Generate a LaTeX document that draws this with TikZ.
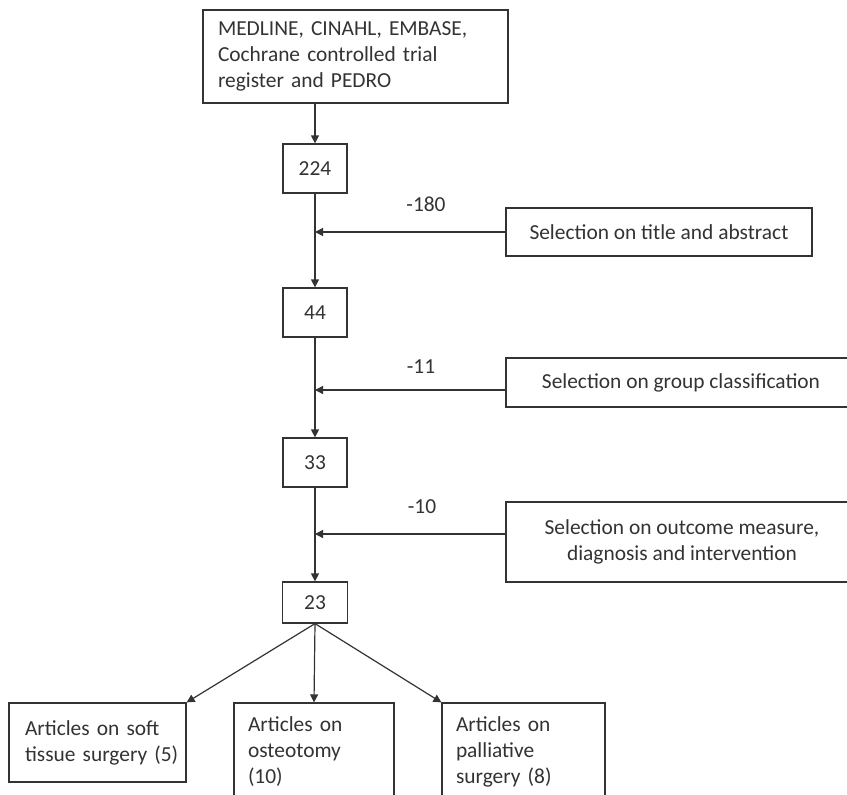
\documentclass[tikz,border=0pt]{standalone}
\usepackage{fontspec}
\setmainfont{Carlito}
\usetikzlibrary{arrows.meta}
\definecolor{ink}{HTML}{333333}
\newcommand\oneline[1]{\mbox{#1}}
\begin{document}
\begin{tikzpicture}[x=1pt,y=-1pt,
  every node/.style={font=\fontsize{21.4}{26}\selectfont, text=ink},
  box/.style={draw=ink, line width=1.2pt, inner sep=0pt},
  lbox/.style={box, align=left},
  cbox/.style={box, align=center},
  arr/.style={draw=ink, line width=1.2pt, -{Triangle[length=8pt,width=8pt]}},
  lab/.style={inner sep=0pt}]
\useasboundingbox (0,0) rectangle (847,795);
\clip (0,0) rectangle (847,795);
\fill[white] (0,0) rectangle (847,795);

\node[lbox, text width=275pt, inner xsep=15pt, minimum height=93pt] (db) at (355.5,56.5)
  {\oneline{MEDLINE, CINAHL, EMBASE,}\\\oneline{Cochrane controlled trial}\\\oneline{register and PEDRO}};
\node[cbox, minimum width=64pt, minimum height=49pt] (n224) at (315,168.5) {224};
\node[cbox, minimum width=64pt, minimum height=49pt] (n44) at (315,312.5) {44};
\node[cbox, minimum width=64pt, minimum height=49pt] (n33) at (315,462.5) {33};
\node[cbox, minimum width=65pt, minimum height=41pt] (n23) at (315,602.5) {23};

\node[cbox, minimum width=306pt, minimum height=48pt] (s1) at (659,232) {Selection on title and abstract};
\node[cbox, minimum width=350pt, minimum height=49pt] (s2) at (681,382.5) {Selection on group classification};
\node[cbox, minimum width=352pt, minimum height=80pt] (s3) at (682,542) {Selection on outcome measure,\\ diagnosis and intervention};

\node[lab] (l180) at (426,204) {-180};
\node[lab] (l11) at (421,367) {-11};
\node[lab] (l10) at (422,507) {-10};

\node[lbox, text width=145pt, inner xsep=16pt, minimum height=79pt] (A) at (97.5,742.5)
  {\oneline{Articles on soft}\\\oneline{tissue surgery (5)}};
\node[lbox, text width=132pt, inner xsep=14pt, minimum height=97pt] (B) at (314,751.5)
  {\oneline{Articles on}\\\oneline{osteotomy}\\\oneline{(10)}};
\node[lbox, text width=135pt, inner xsep=14pt, minimum height=97pt] (C) at (523.5,751.5)
  {\oneline{Articles on}\\\oneline{palliative}\\\oneline{surgery (8)}};

\draw[arr] (db.south -| n224.north) -- (n224.north);
\draw[arr] (n224.south) -- (n44.north);
\draw[arr] (n44.south) -- (n33.north);
\draw[arr] (n33.south) -- (n23.north);

\draw[arr] (s1.west) -- (s1.west -| n224.south);
\draw[arr] ([yshift=-7.5pt]s2.west) -- ([yshift=-7.5pt]s2.west -| n44.south);
\draw[arr] ([yshift=8pt]s3.west) -- ([yshift=8pt]s3.west -| n33.south);

\draw[arr] (n23.south) -- (A.north east);
\draw[arr] (n23.south) -- (B.north);
\draw[arr] (n23.south) -- (C.north west);
\end{tikzpicture}
\end{document}
